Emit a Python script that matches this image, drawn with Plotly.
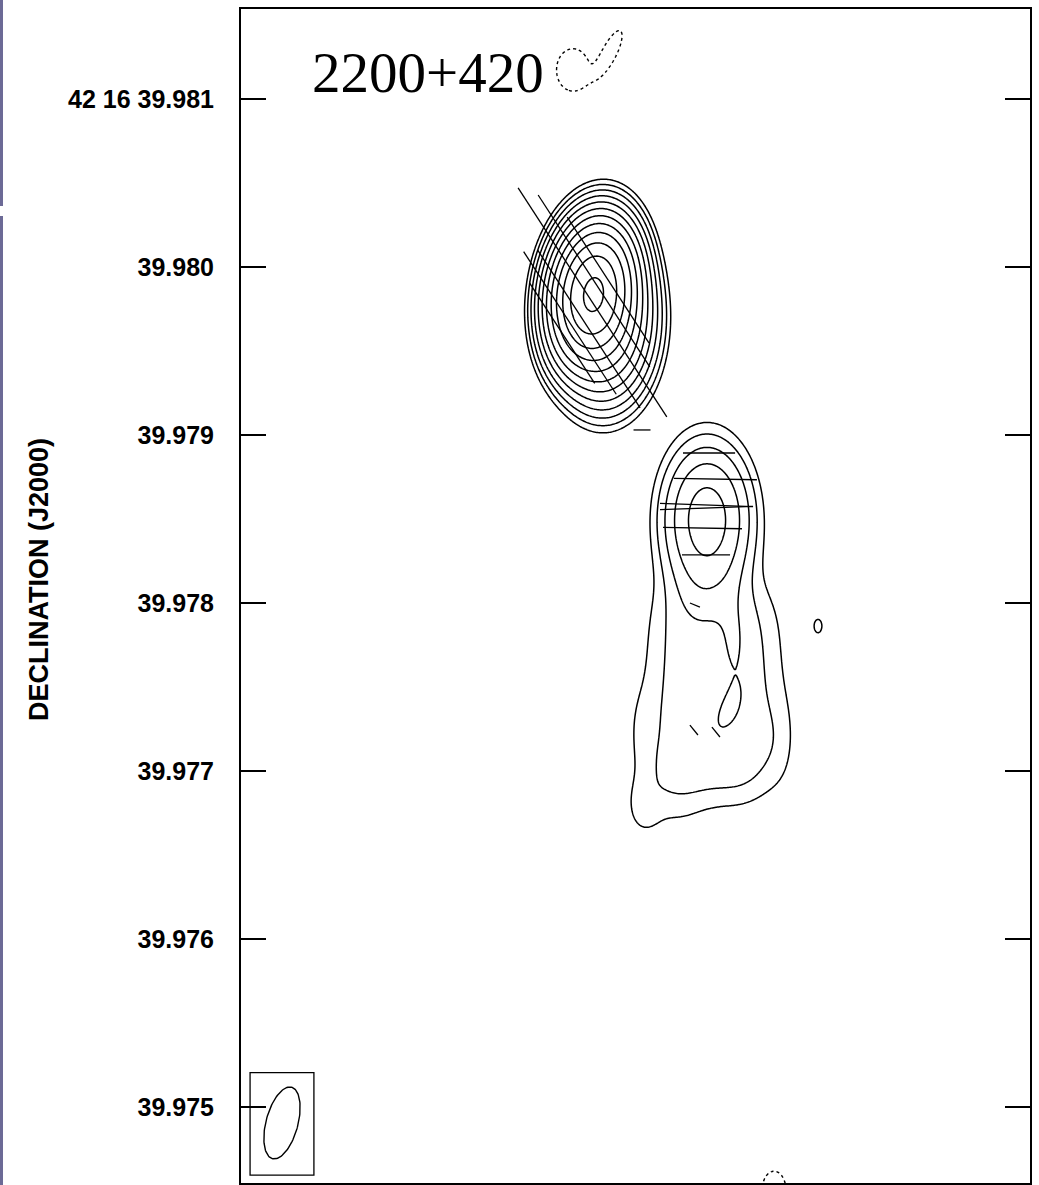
import numpy as np
import plotly.graph_objects as go

# ---- axis ticks: Dec offset (mas) from 42 16 39.981 ----
dec_ticks = [0, -1, -2, -3, -4, -5, -6]
dec_labels = ["42 16 39.981", "39.980", "39.979", "39.978", "39.977", "39.976", "39.975"]

# ---- Gaussian model components (RA offset mas, Dec offset mas, peak, sigmas mas, PA deg) ----
comp_name = ["core", "core_tail", "knot", "knot_ext", "jet_halo",
             "jet_l1", "jet_r1", "jet_l2", "jet_r2", "jet_l3", "jet_r3", "jet_l4", "jet_r4",
             "jet_end", "tongue", "island", "jet_corner", "jet_left", "jet_right", "spot",
             "neg1", "neg2", "neg3"]
comp_x    = [2.095, 2.155, 2.774, 2.762, 2.821,
             2.631, 3.000, 2.631, 3.000, 2.601, 3.000, 2.565, 3.000,
             2.792, 2.929, 2.881, 2.393, 2.387, 3.208, 3.435,
             1.976, 2.196, 3.173]
comp_y    = [-1.155, -1.304, -2.500, -2.893, -3.518,
             -3.101, -3.101, -3.399, -3.399, -3.696, -3.696, -4.054, -3.905,
             -3.994, -3.220, -3.655, -4.220, -3.756, -3.815, -3.137,
             0.173, 0.280, -6.494]
comp_amp  = [2200.0, 300.0, 22.0, 2.5, 0.6,
             1.3, 1.3, 1.3, 1.3, 1.3, 1.3, 1.3, 1.3,
             1.3, 1.6, 1.7, 1.0, 0.5, 0.5, 1.6,
             -2.0, -2.0, -2.0]
comp_smin = [0.101, 0.119, 0.134, 0.119, 0.357,
             0.143, 0.143, 0.143, 0.143, 0.143, 0.143, 0.143, 0.143,
             0.179, 0.065, 0.054, 0.071, 0.071, 0.071, 0.021,
             0.083, 0.036, 0.060]
comp_smaj = [0.173, 0.202, 0.230, 0.179, 0.655,
             0.190, 0.190, 0.190, 0.190, 0.190, 0.190, 0.190, 0.190,
             0.131, 0.238, 0.125, 0.119, 0.179, 0.208, 0.036,
             0.107, 0.119, 0.095]
comp_pa   = [-8.0, 0.0, 0.0, 0.0, 0.0,
             0.0, 0.0, 0.0, 0.0, 0.0, 0.0, 0.0, 0.0,
             0.0, 0.0, -25.0, 0.0, 0.0, 0.0, 0.0,
             0.0, -26.0, 0.0]

# lowest contour level; positive levels step by factor 2
base_level = 1.0
n_levels = 12

# ---- polarization vectors: centre (mas), length (mas), PA (deg) ----
vec_x   = [1.911, 1.958, 2.071, 2.092, 2.101, 2.185, 2.387,
           2.786, 2.824, 2.771, 2.771, 2.747, 2.768,
           2.702, 2.696, 2.827]
vec_y   = [-1.393, -1.333, -1.369, -1.211, -1.083, -1.077, -1.970,
           -2.107, -2.262, -2.417, -2.435, -2.554, -2.714,
           -3.012, -3.756, -3.768]
vec_len = [0.714, 1.012, 1.119, 1.625, 1.220, 0.893, 0.101,
           0.310, 0.494, 0.554, 0.554, 0.470, 0.286,
           0.064, 0.076, 0.076]
vec_pa  = [33, 33, 33, 33, 33, 33, 90,
           90, 89, 88, 92, 89, 90,
           68, 39, 39]

# ---- restoring beam ----
beam_x, beam_y = 0.244, -6.095
beam_maj, beam_min, beam_pa = 0.44, 0.19, -15.0

# ---- sky model on a grid ----
gx = np.linspace(1.3, 3.9, 360)
gy = np.linspace(-6.7, 0.6, 950)
XX, YY = np.meshgrid(gx, gy)
field = np.zeros_like(XX)
for x0, y0, a, smin, smaj, pa in zip(comp_x, comp_y, comp_amp, comp_smin, comp_smaj, comp_pa):
    t = np.radians(pa)
    dx, dy = XX - x0, YY - y0
    u = dx * np.cos(t) + dy * np.sin(t)
    w = -dx * np.sin(t) + dy * np.cos(t)
    field += a * np.exp(-0.5 * ((u / smin) ** 2 + (w / smaj) ** 2))

pos = np.round(np.log2(np.clip(field, 1e-6, None) / base_level), 3)
neg = np.round(-field / base_level, 3)

black = [[0, "black"], [1, "black"]]
fig = go.Figure()

fig.add_trace(go.Contour(
    x=gx, y=gy, z=pos, contours=dict(coloring="lines", start=0, end=n_levels - 1, size=1),
    colorscale=black, showscale=False, line=dict(width=1.5, smoothing=0), hoverinfo="skip"))
fig.add_trace(go.Contour(
    x=gx, y=gy, z=neg, contours=dict(coloring="lines", start=1, end=1, size=1),
    colorscale=black, showscale=False, line=dict(width=1.4, dash="dot", smoothing=0), hoverinfo="skip"))

# vectors as line segments
sx, sy = [], []
for x0, y0, ln, pa in zip(vec_x, vec_y, vec_len, vec_pa):
    t = np.radians(pa)
    ex, ey = -np.sin(t) * ln / 2, np.cos(t) * ln / 2
    sx += [x0 - ex, x0 + ex, None]
    sy += [y0 - ey, y0 + ey, None]
fig.add_trace(go.Scatter(x=sx, y=sy, mode="lines", line=dict(color="black", width=1.3),
                         hoverinfo="skip", showlegend=False))

# beam ellipse
tt = np.linspace(0, 2 * np.pi, 120)
tb = np.radians(beam_pa)
a_maj, a_min = beam_maj / 2, beam_min / 2
bx = beam_x + a_min * np.cos(tt) * np.cos(tb) - a_maj * np.sin(tt) * np.sin(tb)
by = beam_y + a_min * np.cos(tt) * np.sin(tb) + a_maj * np.sin(tt) * np.cos(tb)
fig.add_trace(go.Scatter(x=bx, y=by, mode="lines", line=dict(color="black", width=1.4),
                         hoverinfo="skip", showlegend=False))

W, H = 1039, 1185
ml, mr, mt, mb = 241, 9, 9, 2
pw, ph = W - ml - mr, H - mt - mb
px_per_mas = 168.0
x_range = [0, pw / px_per_mas]
y_top = 90 / px_per_mas
y_range = [y_top - ph / px_per_mas, y_top]

shapes = [
    dict(type="rect", xref="x", yref="y", x0=beam_x - 0.19, x1=beam_x + 0.19,
         y0=beam_y - 0.31, y1=beam_y + 0.30, line=dict(color="black", width=1.3)),
    # page edge strip on the far left
    dict(type="rect", xref="paper", yref="paper", x0=-ml / pw, x1=-(ml - 3) / pw,
         y0=1 - (206 - mt) / ph, y1=1 + mt / ph, fillcolor="#6c6a96", line=dict(width=0)),
    dict(type="rect", xref="paper", yref="paper", x0=-ml / pw, x1=-(ml - 3) / pw,
         y0=-mb / ph, y1=1 - (216 - mt) / ph, fillcolor="#6c6a96", line=dict(width=0)),
]

annotations = [
    dict(x=0.41, y=0.155, xref="x", yref="y", text="2200+420", showarrow=False,
         xanchor="left", yanchor="middle",
         font=dict(family="Liberation Serif", size=57, color="black")),
    dict(x=-(ml - 39) / pw, y=1 - (580 - mt) / ph, xref="paper", yref="paper",
         text="<b>DECLINATION (J2000)</b>", textangle=-90, showarrow=False,
         xanchor="center", yanchor="middle",
         font=dict(family="Liberation Sans", size=27, color="black")),
]

fig.update_layout(
    width=W, height=H, margin=dict(l=ml, r=mr, t=mt, b=mb, autoexpand=False),
    paper_bgcolor="white", plot_bgcolor="white", showlegend=False,
    shapes=shapes, annotations=annotations,
    xaxis=dict(range=x_range, showticklabels=False, ticks="", showgrid=False, zeroline=False,
               showline=True, mirror=True, linecolor="black", linewidth=2),
    yaxis=dict(range=y_range, tickvals=dec_ticks, ticktext=[f"<b>{t}</b>" for t in dec_labels],
               ticks="inside", ticklen=25, tickwidth=1.5, tickcolor="black", showgrid=False,
               zeroline=False, showline=True, mirror="ticks", linecolor="black", linewidth=2,
               ticklabelstandoff=20,
               tickfont=dict(family="Liberation Sans", size=25, color="black")),
)

fig.write_html("out.html")
